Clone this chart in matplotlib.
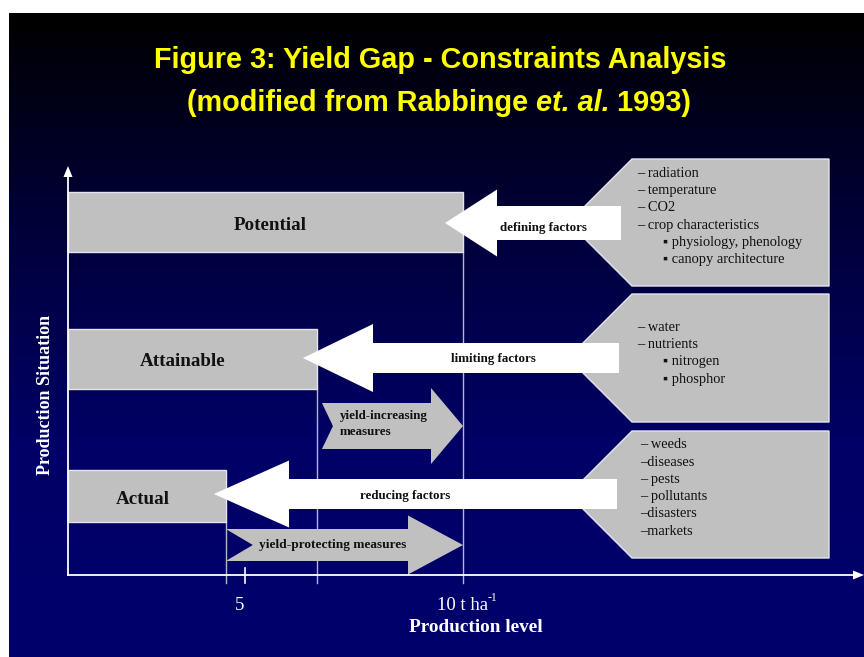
import matplotlib
matplotlib.use("Agg")
import matplotlib.pyplot as plt
import numpy as np
from matplotlib.patches import Polygon, Rectangle
from matplotlib.colors import LinearSegmentedColormap

# ---------------- data ----------------
situations = ["Potential", "Attainable", "Actual"]
yield_levels = [10.0, 6.65, 4.56]          # t/ha reached by each production situation
tick_values = [5, 10]
tick_labels = ["5", "10 t ha"]
factor_labels = ["defining factors", "limiting factors", "reducing factors"]
measure_labels = ["yield-increasing\nmeasures", "yield-protecting measures"]
box_items = [
    [("– radiation", 0), ("– temperature", 0), ("– CO2", 0), ("– crop characteristics", 0),
     ("▪ physiology, phenology", 1), ("▪ canopy architecture", 1)],
    [("– water", 0), ("– nutrients", 0), ("▪ nitrogen", 1), ("▪ phosphor", 1)],
    [("– weeds", 0), ("–diseases", 0), ("– pests", 0), ("– pollutants", 0),
     ("–disasters", 0), ("–markets", 0)],
]
title1 = "Figure 3: Yield Gap - Constraints Analysis"
title2 = ["(modified from Rabbinge ", "et. al.", " 1993)"]
xlabel = "Production level"
ylabel = "Production Situation"

# ---------------- layout ----------------
W, H = 864, 657
X0, XS = 27.0, 43.6          # pixel position of 0 t/ha and pixels per t/ha
def xp(v):
    return X0 + XS * v

ORIGIN_X, AXIS_Y = 68, 575
bar_rows = [(192, 252), (329, 389), (470, 522)]
GREY = "#c0c0c0"
EDGE = "#e4e4ee"
SERIF = ["Liberation Serif", "DejaVu Serif"]
SANS = "Liberation Sans"

fig = plt.figure(figsize=(W / 100, H / 100), dpi=100, facecolor="white")
ax = fig.add_axes([0, 0, 1, 1])
ax.set_xlim(0, W)
ax.set_ylim(H, 0)
ax.axis("off")

# background gradient
cmap = LinearSegmentedColormap.from_list("bg", ["#000000", "#00003a", "#000066", "#00006c"])
grad = np.linspace(0, 1, 256).reshape(-1, 1)
ax.imshow(grad, cmap=cmap, extent=[9, W, H, 13], aspect="auto", zorder=0)

# vertical guide lines from each yield level
for v, (t, b) in zip(yield_levels, bar_rows):
    ax.plot([xp(v), xp(v)], [b, 583], color="#b4b4d4", lw=1.0, zorder=1)
# tick at 5
ax.plot([xp(5), xp(5)], [568, 583], color="white", lw=1.2, zorder=1)

# bars
for name, v, (t, b) in zip(situations, yield_levels, bar_rows):
    ax.add_patch(Rectangle((ORIGIN_X, t), xp(v) - ORIGIN_X, b - t, facecolor=GREY,
                           edgecolor=EDGE, lw=1.0, zorder=2))
label_x = [270, 183, 143]
for name, lx, (t, b) in zip(situations, label_x, bar_rows):
    ax.text(lx, (t + b) / 2 + 3, name, family=SERIF, weight="bold", fontsize=13.7,
            ha="center", va="center", color="#111111", zorder=6)

# grey measure arrows (notched, pointing right)
def right_arrow(tail, notch, tip, cy, hx, hh, sh):
    pts = [(tail, cy - sh), (hx, cy - sh), (hx, cy - hh), (tip, cy), (hx, cy + hh),
           (hx, cy + sh), (tail, cy + sh), (notch, cy)]
    ax.add_patch(Polygon(pts, closed=True, facecolor=GREY, edgecolor="none", zorder=3))

right_arrow(xp(yield_levels[1]) + 5, xp(yield_levels[1]) + 16, xp(yield_levels[0]), 426, 431, 38, 23)
right_arrow(xp(yield_levels[2]), xp(yield_levels[2]) + 27, xp(yield_levels[0]), 545, 408, 29.5, 16)
ax.text(340, 416, measure_labels[0].split("\n")[0], family=SERIF, weight="bold", fontsize=9.4,
        ha="left", va="center", color="#111111", zorder=6)
ax.text(340, 432, measure_labels[0].split("\n")[1], family=SERIF, weight="bold", fontsize=9.4,
        ha="left", va="center", color="#111111", zorder=6)
ax.text(333, 545, measure_labels[1], family=SERIF, weight="bold", fontsize=9.6,
        ha="center", va="center", color="#111111", zorder=6)

# callout boxes
box_rows = [(159, 286), (294, 422), (431, 558)]
for (t, b) in box_rows:
    cy = (t + b) / 2
    pts = [(632 - (cy - t), cy), (632, t), (829, t), (829, b), (632, b)]
    ax.add_patch(Polygon(pts, closed=True, facecolor=GREY, edgecolor=EDGE, lw=1.0, zorder=3))

line_ys = [[172, 189, 206, 224, 241, 258], [326, 343, 360, 378], [443, 461, 478, 495, 512, 530]]
box_x = [637, 637, 640]
for items, ys, bx in zip(box_items, line_ys, box_x):
    for (txt, lvl), y in zip(items, ys):
        ax.text(bx + (26 if lvl else 0), y + 1.5, txt, family=SERIF, fontsize=10.4,
                ha="left", va="center", color="#111111", zorder=6)

# white factor arrows (pointing left)
def left_arrow(tip, cy, hx, hh, sh, tail):
    pts = [(tip, cy), (hx, cy - hh), (hx, cy - sh), (tail, cy - sh), (tail, cy + sh),
           (hx, cy + sh), (hx, cy + hh)]
    ax.add_patch(Polygon(pts, closed=True, facecolor="white", edgecolor="none", zorder=4))

left_arrow(xp(yield_levels[0]) - 18, 223, 497, 33.5, 17, 621)
left_arrow(xp(yield_levels[1]) - 14, 358, 373, 34, 15, 619)
left_arrow(xp(yield_levels[2]) - 12, 494, 289, 33.5, 15, 617)
for txt, (x, y) in zip(factor_labels, [(543, 228), (493, 359), (405, 496)]):
    ax.text(x, y, txt, family=SERIF, weight="bold", fontsize=9.4, ha="center", va="center",
            color="#111111", zorder=6)

# axes lines with arrowheads
ax.plot([ORIGIN_X, ORIGIN_X], [AXIS_Y, 176], color="white", lw=1.3, zorder=5)
ax.add_patch(Polygon([(ORIGIN_X, 166), (ORIGIN_X - 4.5, 177), (ORIGIN_X + 4.5, 177)],
                     closed=True, facecolor="white", edgecolor="none", zorder=5))
ax.plot([ORIGIN_X, 856], [AXIS_Y, AXIS_Y], color="white", lw=1.3, zorder=5)
ax.add_patch(Polygon([(864, AXIS_Y), (853, AXIS_Y - 4.5), (853, AXIS_Y + 4.5)],
                     closed=True, facecolor="white", edgecolor="none", zorder=5))

# tick labels
ax.text(xp(tick_values[0]) - 5, 605, tick_labels[0], family=SERIF, fontsize=13.5,
        ha="center", va="center", color="white", zorder=6)
ax.text(xp(tick_values[1]) + 25, 605, tick_labels[1], family=SERIF, fontsize=13.5,
        ha="right", va="center", color="white", zorder=6)
ax.text(xp(tick_values[1]) + 25, 598, "-1", family=SERIF, fontsize=8.5,
        ha="left", va="center", color="white", zorder=6)
ax.text(476, 628, xlabel, family=SERIF, weight="bold", fontsize=13.9, ha="center",
        va="center", color="white", zorder=6)
ax.text(46, 395, ylabel, family=SERIF, weight="bold", fontsize=13, ha="center",
        va="center", rotation=90, color="white", zorder=6)

# title
ax.text(440, 60, title1, family=SANS, weight="bold", fontsize=20.8, ha="center",
        va="center", color="#ffff00", zorder=6)
renderer = fig.canvas.get_renderer()
styles = ["normal", "italic", "normal"]
parts = []
for s, st in zip(title2, styles):
    parts.append(ax.text(0, 103, s, family=SANS, weight="bold", style=st, fontsize=20.8,
                         ha="left", va="center", color="#ffff00", zorder=6))
widths = [p.get_window_extent(renderer).width for p in parts]
x = 439 - sum(widths) / 2
for p, w in zip(parts, widths):
    p.set_x(x)
    x += w

fig.savefig("out.png", dpi=100, facecolor="white")
